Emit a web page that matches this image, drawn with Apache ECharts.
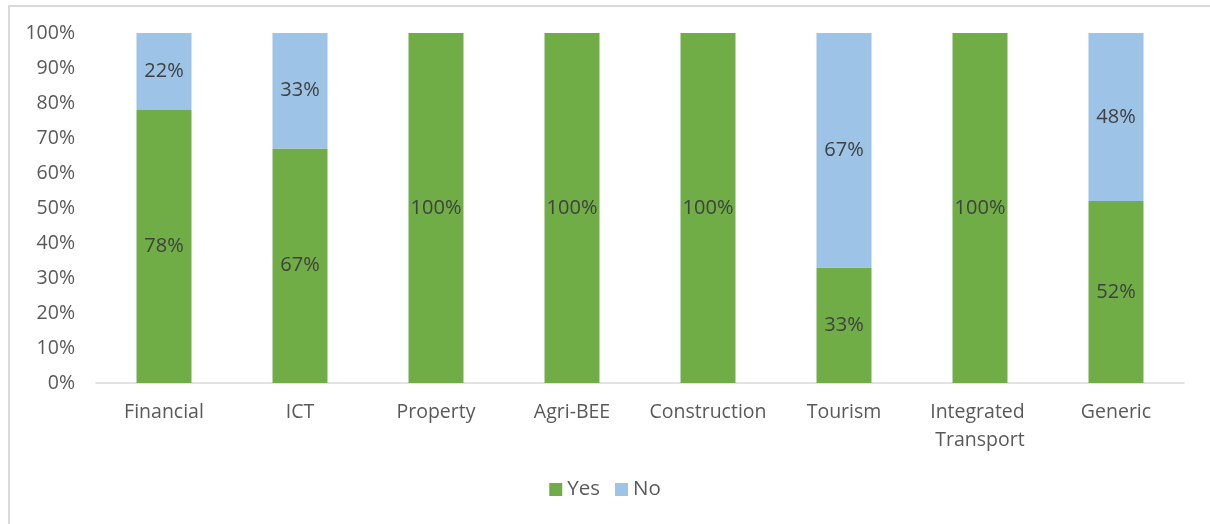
<!DOCTYPE html>
<html>
<head>
<meta charset="utf-8">
<script src="https://cdn.jsdelivr.net/npm/echarts@6/dist/echarts.min.js"></script>
<style>
  html, body { margin: 0; padding: 0; background: #fff; }
  #frame { position: absolute; left: 8px; top: 5px; width: 1220px; height: 540px; border: 2px solid #d9d9d9; box-sizing: border-box; }
  #chart { position: absolute; left: 0; top: 0; width: 1210px; height: 524px; }
</style>
</head>
<body>
<div id="frame"></div>
<div id="chart"></div>
<script>
const categories = ['Financial', 'ICT', 'Property', 'Agri-BEE', 'Construction', 'Tourism', 'Integrated Transport', 'Generic'];
const yesValues = [78, 67, 100, 100, 100, 33, 100, 52];
const noValues = [22, 33, 0, 0, 0, 67, 0, 48];

const font = '"Open Sans", "Noto Sans", sans-serif';

const labelOpt = {
  show: true,
  position: 'inside',
  color: '#404040',
  fontFamily: font,
  fontSize: 20,
  formatter: p => (p.value > 0 ? p.value + '%' : '')
};

const chart = echarts.init(document.getElementById('chart'));
chart.setOption({
  animation: false,
  grid: { left: 96, right: 26, top: 33, bottom: 141 },
  legend: {
    bottom: 19,
    left: 'center',
    itemWidth: 13,
    itemHeight: 13,
    itemGap: 15,
    icon: 'rect',
    textStyle: { color: '#595959', fontFamily: font, fontSize: 20.5 },
    data: ['Yes', 'No']
  },
  xAxis: {
    type: 'category',
    data: categories,
    axisLine: { lineStyle: { color: '#d9d9d9', width: 1.5 } },
    axisTick: { show: false },
    axisLabel: {
      color: '#595959',
      fontFamily: font,
      fontSize: 19.5,
      margin: 15,
      lineHeight: 28,
      width: 125,
      overflow: 'break',
      interval: 0
    }
  },
  yAxis: {
    type: 'value',
    min: 0,
    max: 100,
    interval: 10,
    axisLine: { show: false },
    axisTick: { show: false },
    splitLine: { show: false },
    axisLabel: {
      color: '#595959',
      fontFamily: font,
      fontSize: 19.5,
      margin: 21,
      formatter: '{value}%'
    }
  },
  series: [
    {
      name: 'Yes',
      type: 'bar',
      stack: 'total',
      barWidth: 55,
      itemStyle: { color: '#70ad47' },
      label: labelOpt,
      data: yesValues
    },
    {
      name: 'No',
      type: 'bar',
      stack: 'total',
      barWidth: 55,
      itemStyle: { color: '#9dc3e6' },
      label: labelOpt,
      data: noValues
    }
  ]
});
</script>
</body>
</html>
